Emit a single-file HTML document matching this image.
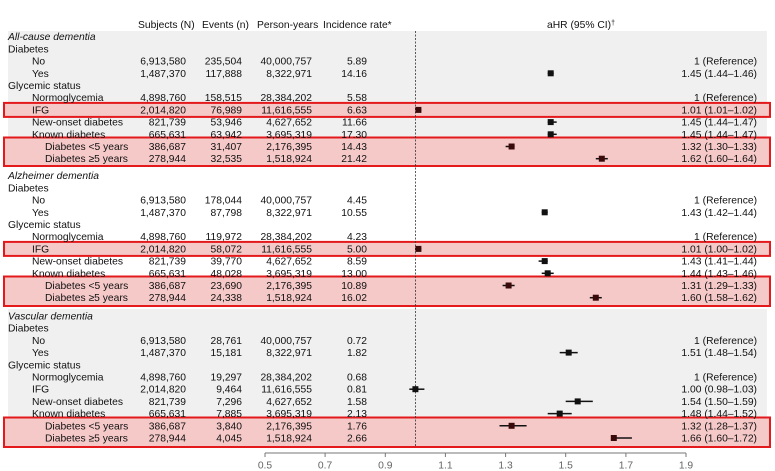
<!DOCTYPE html>
<html><head><meta charset="utf-8"><style>
html,body{margin:0;padding:0;background:#fff;}
svg{display:block;font-family:"Liberation Sans",Arial,sans-serif;font-size:10.3px;fill:#111;}
.r{text-anchor:end}
.it{font-style:italic}
.ax{fill:#666;text-anchor:middle}
</style></head><body>
<svg width="775" height="471" viewBox="0 0 775 471" xmlns="http://www.w3.org/2000/svg">
<rect x="8" y="31" width="759" height="135" fill="#f0f0f0"/>
<rect x="8" y="309" width="759" height="136" fill="#f0f0f0"/>
<g fill="#f6c9c9" stroke="#e3191c" stroke-width="2">
<rect x="4" y="102.9" width="766" height="14"/>
<rect x="4" y="137.5" width="766" height="28.5"/>
<rect x="4" y="241.9" width="766" height="14"/>
<rect x="4" y="276.5" width="766" height="29.5"/>
<rect x="4" y="417.5" width="766" height="29.5"/>
</g>
<line x1="415.4" y1="31" x2="415.4" y2="446" stroke="#333" stroke-width="0.8" stroke-dasharray="2,1.5"/>
<text x="138" y="28">Subjects (N)</text>
<text x="202" y="28">Events (n)</text>
<text x="257" y="28">Person-years</text>
<text x="323" y="28">Incidence rate*</text>
<text x="547" y="28">aHR (95% CI)<tspan font-size="7" dy="-3">†</tspan></text>

<g>
<text x="8" y="40.2" class="it">All-cause dementia</text>
<text x="8" y="52.4">Diabetes</text>
<text x="32" y="64.6">No</text><text x="186" y="64.6" class="r">6,913,580</text><text x="242" y="64.6" class="r">235,504</text><text x="312" y="64.6" class="r">40,000,757</text><text x="367" y="64.6" class="r">5.89</text><text x="757" y="64.6" class="r">1 (Reference)</text>
<text x="32" y="76.8">Yes</text><text x="186" y="76.8" class="r">1,487,370</text><text x="242" y="76.8" class="r">117,888</text><text x="312" y="76.8" class="r">8,322,971</text><text x="367" y="76.8" class="r">14.16</text><text x="757" y="76.8" class="r">1.45 (1.44–1.46)</text>
<text x="8" y="89">Glycemic status</text>
<text x="32" y="101.2">Normoglycemia</text><text x="186" y="101.2" class="r">4,898,760</text><text x="242" y="101.2" class="r">158,515</text><text x="312" y="101.2" class="r">28,384,202</text><text x="367" y="101.2" class="r">5.58</text><text x="757" y="101.2" class="r">1 (Reference)</text>
<text x="32" y="113.4">IFG</text><text x="186" y="113.4" class="r">2,014,820</text><text x="242" y="113.4" class="r">76,989</text><text x="312" y="113.4" class="r">11,616,555</text><text x="367" y="113.4" class="r">6.63</text><text x="757" y="113.4" class="r">1.01 (1.01–1.02)</text>
<text x="32" y="125.6">New-onset diabetes</text><text x="186" y="125.6" class="r">821,739</text><text x="242" y="125.6" class="r">53,946</text><text x="312" y="125.6" class="r">4,627,652</text><text x="367" y="125.6" class="r">11.66</text><text x="757" y="125.6" class="r">1.45 (1.44–1.47)</text>
<text x="32" y="137.8">Known diabetes</text><text x="186" y="137.8" class="r">665,631</text><text x="242" y="137.8" class="r">63,942</text><text x="312" y="137.8" class="r">3,695,319</text><text x="367" y="137.8" class="r">17.30</text><text x="757" y="137.8" class="r">1.45 (1.44–1.47)</text>
<text x="45" y="150">Diabetes &lt;5 years</text><text x="186" y="150" class="r">386,687</text><text x="242" y="150" class="r">31,407</text><text x="312" y="150" class="r">2,176,395</text><text x="367" y="150" class="r">14.43</text><text x="757" y="150" class="r">1.32 (1.30–1.33)</text>
<text x="45" y="162.2">Diabetes ≥5 years</text><text x="186" y="162.2" class="r">278,944</text><text x="242" y="162.2" class="r">32,535</text><text x="312" y="162.2" class="r">1,518,924</text><text x="367" y="162.2" class="r">21.42</text><text x="757" y="162.2" class="r">1.62 (1.60–1.64)</text>
</g>

<g>
<text x="8" y="179.2" class="it">Alzheimer dementia</text>
<text x="8" y="191.4">Diabetes</text>
<text x="32" y="203.6">No</text><text x="186" y="203.6" class="r">6,913,580</text><text x="242" y="203.6" class="r">178,044</text><text x="312" y="203.6" class="r">40,000,757</text><text x="367" y="203.6" class="r">4.45</text><text x="757" y="203.6" class="r">1 (Reference)</text>
<text x="32" y="215.8">Yes</text><text x="186" y="215.8" class="r">1,487,370</text><text x="242" y="215.8" class="r">87,798</text><text x="312" y="215.8" class="r">8,322,971</text><text x="367" y="215.8" class="r">10.55</text><text x="757" y="215.8" class="r">1.43 (1.42–1.44)</text>
<text x="8" y="228">Glycemic status</text>
<text x="32" y="240.2">Normoglycemia</text><text x="186" y="240.2" class="r">4,898,760</text><text x="242" y="240.2" class="r">119,972</text><text x="312" y="240.2" class="r">28,384,202</text><text x="367" y="240.2" class="r">4.23</text><text x="757" y="240.2" class="r">1 (Reference)</text>
<text x="32" y="252.4">IFG</text><text x="186" y="252.4" class="r">2,014,820</text><text x="242" y="252.4" class="r">58,072</text><text x="312" y="252.4" class="r">11,616,555</text><text x="367" y="252.4" class="r">5.00</text><text x="757" y="252.4" class="r">1.01 (1.00–1.02)</text>
<text x="32" y="264.6">New-onset diabetes</text><text x="186" y="264.6" class="r">821,739</text><text x="242" y="264.6" class="r">39,770</text><text x="312" y="264.6" class="r">4,627,652</text><text x="367" y="264.6" class="r">8.59</text><text x="757" y="264.6" class="r">1.43 (1.41–1.44)</text>
<text x="32" y="276.8">Known diabetes</text><text x="186" y="276.8" class="r">665,631</text><text x="242" y="276.8" class="r">48,028</text><text x="312" y="276.8" class="r">3,695,319</text><text x="367" y="276.8" class="r">13.00</text><text x="757" y="276.8" class="r">1.44 (1.43–1.46)</text>
<text x="45" y="289">Diabetes &lt;5 years</text><text x="186" y="289" class="r">386,687</text><text x="242" y="289" class="r">23,690</text><text x="312" y="289" class="r">2,176,395</text><text x="367" y="289" class="r">10.89</text><text x="757" y="289" class="r">1.31 (1.29–1.33)</text>
<text x="45" y="301.2">Diabetes ≥5 years</text><text x="186" y="301.2" class="r">278,944</text><text x="242" y="301.2" class="r">24,338</text><text x="312" y="301.2" class="r">1,518,924</text><text x="367" y="301.2" class="r">16.02</text><text x="757" y="301.2" class="r">1.60 (1.58–1.62)</text>
</g>

<g>
<text x="8" y="319.5" class="it">Vascular dementia</text>
<text x="8" y="331.7">Diabetes</text>
<text x="32" y="343.9">No</text><text x="186" y="343.9" class="r">6,913,580</text><text x="242" y="343.9" class="r">28,761</text><text x="312" y="343.9" class="r">40,000,757</text><text x="367" y="343.9" class="r">0.72</text><text x="757" y="343.9" class="r">1 (Reference)</text>
<text x="32" y="356.1">Yes</text><text x="186" y="356.1" class="r">1,487,370</text><text x="242" y="356.1" class="r">15,181</text><text x="312" y="356.1" class="r">8,322,971</text><text x="367" y="356.1" class="r">1.82</text><text x="757" y="356.1" class="r">1.51 (1.48–1.54)</text>
<text x="8" y="368.3">Glycemic status</text>
<text x="32" y="380.5">Normoglycemia</text><text x="186" y="380.5" class="r">4,898,760</text><text x="242" y="380.5" class="r">19,297</text><text x="312" y="380.5" class="r">28,384,202</text><text x="367" y="380.5" class="r">0.68</text><text x="757" y="380.5" class="r">1 (Reference)</text>
<text x="32" y="392.7">IFG</text><text x="186" y="392.7" class="r">2,014,820</text><text x="242" y="392.7" class="r">9,464</text><text x="312" y="392.7" class="r">11,616,555</text><text x="367" y="392.7" class="r">0.81</text><text x="757" y="392.7" class="r">1.00 (0.98–1.03)</text>
<text x="32" y="404.9">New-onset diabetes</text><text x="186" y="404.9" class="r">821,739</text><text x="242" y="404.9" class="r">7,296</text><text x="312" y="404.9" class="r">4,627,652</text><text x="367" y="404.9" class="r">1.58</text><text x="757" y="404.9" class="r">1.54 (1.50–1.59)</text>
<text x="32" y="417.1">Known diabetes</text><text x="186" y="417.1" class="r">665,631</text><text x="242" y="417.1" class="r">7,885</text><text x="312" y="417.1" class="r">3,695,319</text><text x="367" y="417.1" class="r">2.13</text><text x="757" y="417.1" class="r">1.48 (1.44–1.52)</text>
<text x="45" y="429.3">Diabetes &lt;5 years</text><text x="186" y="429.3" class="r">386,687</text><text x="242" y="429.3" class="r">3,840</text><text x="312" y="429.3" class="r">2,176,395</text><text x="367" y="429.3" class="r">1.76</text><text x="757" y="429.3" class="r">1.32 (1.28–1.37)</text>
<text x="45" y="441.5">Diabetes ≥5 years</text><text x="186" y="441.5" class="r">278,944</text><text x="242" y="441.5" class="r">4,045</text><text x="312" y="441.5" class="r">1,518,924</text><text x="367" y="441.5" class="r">2.66</text><text x="757" y="441.5" class="r">1.66 (1.60–1.72)</text>
</g>

<g stroke="#111" stroke-width="1.5">
<line x1="547.7" y1="73.3" x2="553.7" y2="73.3"/>
<line x1="418.4" y1="109.9" x2="421.4" y2="109.9"/>
<line x1="547.7" y1="122.1" x2="556.7" y2="122.1"/>
<line x1="547.7" y1="134.3" x2="556.7" y2="134.3"/>
<line x1="505.6" y1="146.5" x2="514.6" y2="146.5"/>
<line x1="595.8" y1="158.7" x2="607.8" y2="158.7"/>
<line x1="541.7" y1="212.3" x2="547.7" y2="212.3"/>
<line x1="415.4" y1="248.9" x2="421.4" y2="248.9"/>
<line x1="538.6" y1="261.1" x2="547.7" y2="261.1"/>
<line x1="541.7" y1="273.3" x2="553.7" y2="273.3"/>
<line x1="502.6" y1="285.5" x2="514.6" y2="285.5"/>
<line x1="589.8" y1="297.7" x2="601.8" y2="297.7"/>
<line x1="559.7" y1="352.6" x2="577.7" y2="352.6"/>
<line x1="409.3" y1="389.2" x2="424.4" y2="389.2"/>
<line x1="565.7" y1="401.4" x2="592.8" y2="401.4"/>
<line x1="547.7" y1="413.6" x2="571.7" y2="413.6"/>
<line x1="499.5" y1="425.8" x2="526.6" y2="425.8"/>
<line x1="613.8" y1="438" x2="631.9" y2="438"/>
</g>
<g fill="#111">
<rect x="547.7" y="70.3" width="6" height="6"/>
<rect x="541.7" y="209.3" width="6" height="6"/>
<rect x="547.7" y="119.1" width="6" height="6"/>
<rect x="547.7" y="131.3" width="6" height="6"/>
<rect x="541.7" y="258.1" width="6" height="6"/>
<rect x="544.7" y="270.3" width="6" height="6"/>
<rect x="565.7" y="349.6" width="6" height="6"/>
<rect x="412.4" y="386.2" width="6" height="6"/>
<rect x="574.7" y="398.4" width="6" height="6"/>
<rect x="556.7" y="410.6" width="6" height="6"/>
</g>
<g fill="#3a0a0a">
<rect x="415.4" y="106.9" width="6" height="6"/>
<rect x="508.6" y="143.5" width="6" height="6"/>
<rect x="598.8" y="155.7" width="6" height="6"/>
<rect x="415.4" y="245.9" width="6" height="6"/>
<rect x="505.6" y="282.5" width="6" height="6"/>
<rect x="592.8" y="294.7" width="6" height="6"/>
<rect x="508.6" y="422.8" width="6" height="6"/>
<rect x="610.8" y="435" width="6" height="6"/>
</g>
<g stroke="#777" stroke-width="1">
<line x1="265" y1="453" x2="686" y2="453"/>
<line x1="265" y1="453" x2="265" y2="457"/>
<line x1="325.1" y1="453" x2="325.1" y2="457"/>
<line x1="385.3" y1="453" x2="385.3" y2="457"/>
<line x1="445.4" y1="453" x2="445.4" y2="457"/>
<line x1="505.6" y1="453" x2="505.6" y2="457"/>
<line x1="565.7" y1="453" x2="565.7" y2="457"/>
<line x1="625.9" y1="453" x2="625.9" y2="457"/>
<line x1="686" y1="453" x2="686" y2="457"/>
</g>
<g>
<text x="265" y="468.5" class="ax">0.5</text>
<text x="325.1" y="468.5" class="ax">0.7</text>
<text x="385.3" y="468.5" class="ax">0.9</text>
<text x="445.4" y="468.5" class="ax">1.1</text>
<text x="505.6" y="468.5" class="ax">1.3</text>
<text x="565.7" y="468.5" class="ax">1.5</text>
<text x="625.9" y="468.5" class="ax">1.7</text>
<text x="686" y="468.5" class="ax">1.9</text>
</g>
</svg>
</body></html>
